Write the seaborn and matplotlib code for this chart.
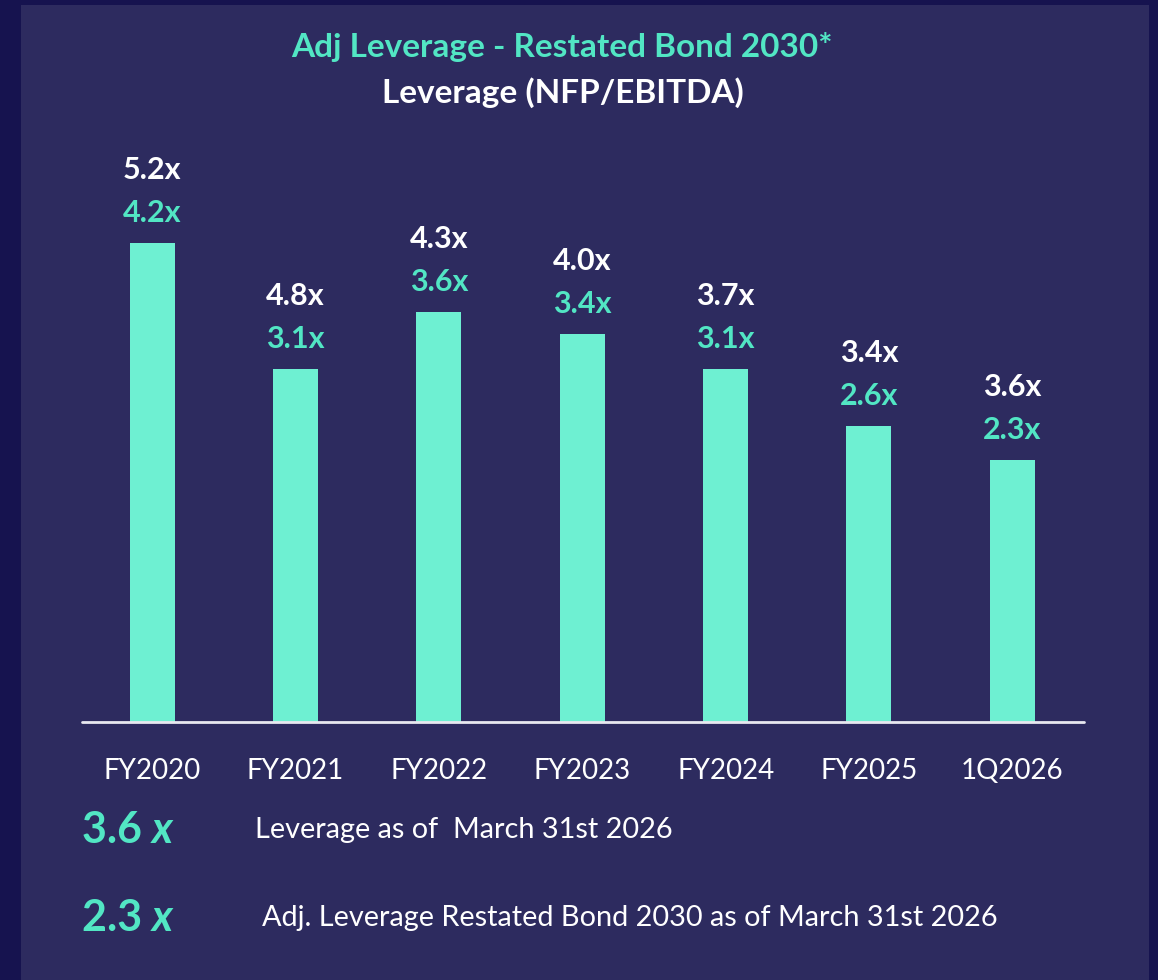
import matplotlib
matplotlib.use("Agg")
import matplotlib.pyplot as plt
from matplotlib.patches import Rectangle
import seaborn as sns
import pandas as pd

categories = ["FY2020", "FY2021", "FY2022", "FY2023", "FY2024", "FY2025", "1Q2026"]
leverage = [5.2, 4.8, 4.3, 4.0, 3.7, 3.4, 3.6]
adj_leverage = [4.2, 3.1, 3.6, 3.4, 3.1, 2.6, 2.3]

title_main = "Adj Leverage - Restated Bond 2030*"
title_sub = "Leverage (NFP/EBITDA)"
kpi_values = ["3.6 ", "2.3 "]
kpi_texts = ["Leverage as of  March 31st 2026",
             "Adj. Leverage Restated Bond 2030 as of March 31st 2026"]

OUTER = "#16134F"
PANEL = "#2D2B5F"
BAR = "#6EF0D2"
TEAL = "#52E6C4"
WHITE = "#FFFFFF"

sns.set_theme(style="white")
plt.rcParams["font.family"] = ["Lato", "DejaVu Sans"]

W, H = 1158, 980
fig = plt.figure(figsize=(W / 100, H / 100), dpi=100, facecolor=OUTER)
fig.patches.append(Rectangle((21 / W, 0), (1149 - 21) / W, (H - 5) / H,
                             transform=fig.transFigure, facecolor=PANEL,
                             edgecolor="none", zorder=-10))

ax = fig.add_axes([82 / W, (H - 722) / H, (1084 - 82) / W, 570 / H])
ax.set_zorder(5)
ax.set_facecolor("none")

df = pd.DataFrame({"cat": categories, "adj": adj_leverage, "lev": leverage})
sns.barplot(data=df, x="cat", y="adj", color=BAR, saturation=1, width=0.314,
            ax=ax, zorder=2, edgecolor="none", linewidth=0)
ax.set_xlim(-0.49, 6.5)
ax.set_ylim(0, 5.0)
for s in ax.spines.values():
    s.set_visible(False)
ax.axhline(0, color="#E8E8F0", lw=2, zorder=3, clip_on=False)
ax.set_yticks([])
ax.set_xlabel("")
ax.set_ylabel("")
ax.tick_params(axis="x", length=0, pad=26, labelsize=20, labelcolor=WHITE)

for i, (lv, av) in enumerate(zip(leverage, adj_leverage)):
    ax.annotate(f"{av:.1f}x", (i, av), xytext=(0, 30), textcoords="offset pixels",
                ha="center", va="center", color=TEAL, fontsize=22,
                fontweight="bold", annotation_clip=False)
    ax.annotate(f"{lv:.1f}x", (i, av), xytext=(0, 73), textcoords="offset pixels",
                ha="center", va="center", color=WHITE, fontsize=22,
                fontweight="bold", annotation_clip=False)

fig.text(562 / W, 1 - 47 / H, title_main, ha="center", va="center",
         color=TEAL, fontsize=24, fontweight="bold")
fig.text(563 / W, 1 - 93 / H, title_sub, ha="center", va="center",
         color=WHITE, fontsize=24, fontweight="bold")

kpi_y = [830, 918]
text_x = [255, 262]
for val, txt, y, tx in zip(kpi_values, kpi_texts, kpi_y, text_x):
    fig.text(82 / W, 1 - y / H, val, ha="left", va="center", color=TEAL,
             fontsize=31, fontweight="bold")
    fig.text(152 / W, 1 - y / H, "x", ha="left", va="center", color=TEAL,
             fontsize=31, fontweight="bold", style="italic")
    fig.text(tx / W, 1 - y / H, txt, ha="left", va="center", color=WHITE,
             fontsize=20.8)

fig.savefig("out.png", dpi=100, facecolor=OUTER)
